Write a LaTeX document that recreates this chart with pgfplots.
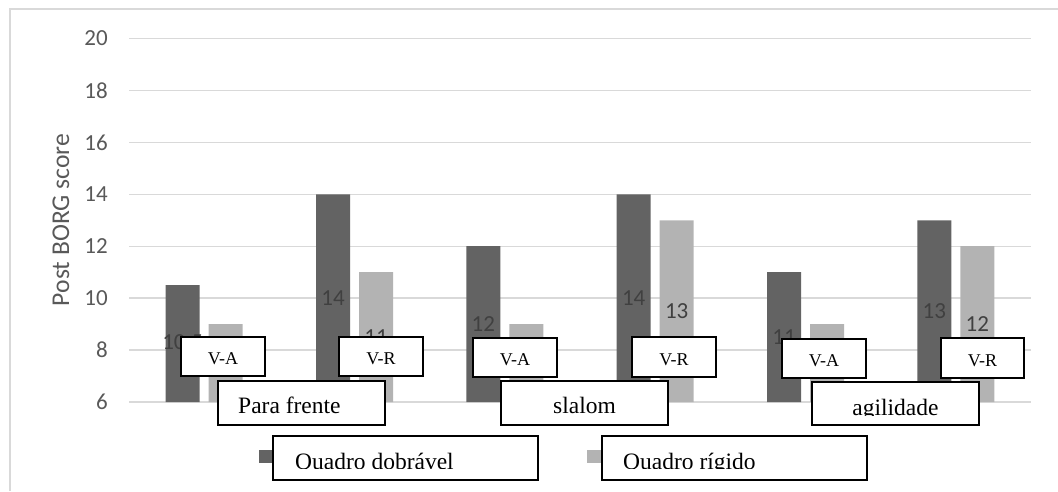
\documentclass[border=0pt]{standalone}
\usepackage{fontspec}
\setmainfont{Liberation Serif}
\newfontfamily\carlito{Carlito}
\usepackage{pgfplots}
\pgfplotsset{compat=1.18}
\usepackage{pgfplotstable}

\definecolor{bardark}{HTML}{636363}
\definecolor{barlight}{HTML}{B3B3B3}
\definecolor{gridgray}{HTML}{D9D9D9}
\definecolor{textgray}{HTML}{595959}
\definecolor{labelgray}{HTML}{404040}

% Post-test BORG scores per task and wheelchair frame
\pgfplotstableread{
x dobravel rigido
0 10.5 9
1 14   11
2 12   9
3 14   13
4 11   9
5 13   12
}\borg

\tikzset{
  tagbox/.style={draw=black, fill=white, line width=1.2pt},
  tagtext/.style={anchor=base, inner sep=0pt, font=\fontsize{18}{20}\selectfont},
  bigtext/.style={inner sep=0pt, font=\fontsize{23.5}{26}\selectfont},
}

\begin{document}
\begin{tikzpicture}
\useasboundingbox (0pt,0pt) rectangle (1058pt,491pt);
\draw[gridgray, line width=1.3pt] (10pt,0pt) -- (10pt,482pt) -- (1058pt,482pt);

\begin{axis}[
  at={(129pt,89pt)}, anchor=south west,
  scale only axis, width=902pt, height=363.5pt,
  xmin=-0.5, xmax=5.5, ymin=6, ymax=20,
  xtick=\empty, ytick={6,8,...,20},
  ymajorgrids, grid style={gridgray, line width=1.3pt},
  axis line style={draw=none}, major tick length=0pt,
  tick label style={font=\carlito\fontsize{23}{27}\selectfont, text=textgray},
  yticklabel style={inner sep=0pt, xshift=-21pt},
  /pgf/number format/assume math mode=true,
  /pgf/number format/use comma,
  legend style={at={(0.1441,-0.1499)}, anchor=west, draw=none, fill=none,
    inner sep=0pt, outer sep=0pt, nodes={inner sep=0pt},
    /tikz/every even column/.append style={column sep=0pt}},
  legend columns=2,
]
\addplot[ybar, bar width=34pt, bar shift=-21.5pt, fill=bardark, draw=none,
  legend image code/.code={\fill[bardark] (0pt,-6.5pt) rectangle (14pt,6.5pt);}]
  table[x=x, y=dobravel]{\borg};
\addlegendentry{\hspace*{314pt}}
\addplot[ybar, bar width=34pt, bar shift=21.5pt, fill=barlight, draw=none,
  legend image code/.code={\fill[barlight] (0pt,-6.5pt) rectangle (15pt,6.5pt);}]
  table[x=x, y=rigido]{\borg};
\addlegendentry{\hspace*{1pt}}

% value labels centred inside each bar
\addplot[forget plot, draw=none, mark=none, nodes near coords,
  point meta=\thisrow{dobravel},
  every node near coord/.append style={anchor=center, inner sep=0pt,
    font=\carlito\fontsize{23}{27}\selectfont, text=labelgray}]
  table[x expr=\thisrow{x}-0.143, y expr=(\thisrow{dobravel}+6)/2]{\borg};
\addplot[forget plot, draw=none, mark=none, nodes near coords,
  point meta=\thisrow{rigido},
  every node near coord/.append style={anchor=center, inner sep=0pt,
    font=\carlito\fontsize{23}{27}\selectfont, text=labelgray}]
  table[x expr=\thisrow{x}+0.143, y expr=(\thisrow{rigido}+6)/2]{\borg};
\end{axis}

\node[rotate=90, inner sep=0pt, text=textgray, font=\carlito\fontsize{25.6}{30}\selectfont]
  at (61pt,271pt) {Post BORG score};

% comparison tags
\draw[tagbox] (181pt,115pt) rectangle (265pt,154pt);
\node[tagtext] at (223pt,127pt) {V-A};
\draw[tagbox] (339pt,115pt) rectangle (423pt,154pt);
\node[tagtext] at (381pt,127pt) {V-R};
\draw[tagbox] (473pt,114pt) rectangle (557pt,153pt);
\node[tagtext] at (515pt,126pt) {V-A};
\draw[tagbox] (632pt,114pt) rectangle (716pt,154pt);
\node[tagtext] at (674pt,126pt) {V-R};
\draw[tagbox] (782pt,113pt) rectangle (866pt,152pt);
\node[tagtext] at (824pt,125pt) {V-A};
\draw[tagbox] (941pt,113pt) rectangle (1024pt,153pt);
\node[tagtext] at (982.5pt,125pt) {V-R};

% task names
\draw[tagbox] (218pt,66pt) rectangle (385pt,110pt);
\node[bigtext, anchor=base west] at (238pt,78pt) {Para frente};
\draw[tagbox] (501pt,66pt) rectangle (668pt,110pt);
\node[bigtext, anchor=base] at (584.5pt,78pt) {slalom};
\draw[tagbox] (812pt,66pt) rectangle (979pt,109pt);
\begin{scope}
  \clip (812pt,76pt) rectangle (979pt,109pt);
  \node[bigtext, anchor=base] at (895.5pt,75.6pt) {agilidade};
\end{scope}

% series names
\draw[tagbox] (273pt,11pt) rectangle (538pt,55pt);
\begin{scope}
  \clip (273pt,22.3pt) rectangle (538pt,55pt);
  \node[bigtext, anchor=base west] at (295pt,21.8pt) {Quadro dobrável};
\end{scope}
\draw[tagbox] (602pt,11pt) rectangle (867pt,55pt);
\begin{scope}
  \clip (602pt,22.3pt) rectangle (867pt,55pt);
  \node[bigtext, anchor=base west] at (623pt,21.8pt) {Quadro rígido};
\end{scope}
\end{tikzpicture}
\end{document}
